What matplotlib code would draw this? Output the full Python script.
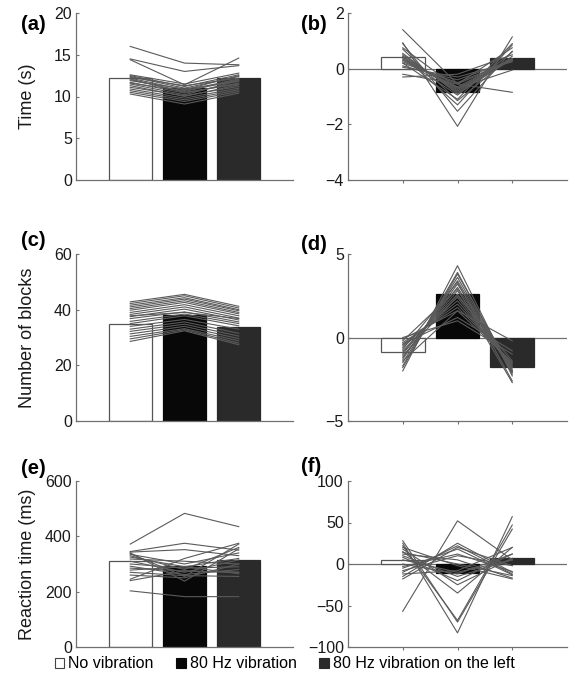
import matplotlib
matplotlib.use("Agg")
import matplotlib.pyplot as plt
from matplotlib.patches import Patch
import numpy as np

plt.rcParams['font.family'] = ['Liberation Sans', 'DejaVu Sans']

conditions = ["No vibration", "80 Hz vibration", "80 Hz vibration on the left"]
bar_colors = ["white", "#080808", "#2a2a2a"]

# (a) Time (s)
a_means = [12.25, 11.0, 12.2]
a_subj = [
    [16.0, 14.0, 13.8], [14.5, 13.0, 13.7], [14.4, 11.4, 14.6], [12.6, 11.5, 12.8],
    [12.5, 11.2, 12.6], [12.4, 11.0, 12.4], [12.3, 11.3, 12.2], [12.2, 10.8, 12.5],
    [12.0, 10.6, 12.0], [11.9, 10.9, 11.8], [11.7, 10.4, 11.6], [11.5, 10.2, 11.9],
    [11.3, 10.0, 11.4], [11.1, 10.1, 11.2], [10.9, 9.8, 11.0], [10.7, 9.6, 10.8],
    [10.5, 9.4, 10.6], [10.3, 9.1, 10.4], [12.1, 10.5, 11.5], [11.6, 10.7, 12.1],
]
# (b) normalized time
b_means = [0.43, -0.83, 0.40]
b_subj = [
    [1.40, -0.55, -0.85], [0.75, -0.70, -0.05], [0.93, -2.07, 1.14], [0.90, -1.53, 0.63],
    [0.45, -1.30, 0.85], [0.70, -1.15, 0.45], [0.20, -1.10, 0.90], [0.55, -0.90, 0.35],
    [0.50, -0.85, 0.35], [0.45, -0.80, 0.35], [0.40, -0.75, 0.35], [0.35, -0.70, 0.35],
    [0.30, -0.65, 0.35], [0.25, -0.55, 0.30], [0.20, -0.50, 0.30], [0.10, -0.40, 0.30],
    [0.05, -0.30, 0.25], [-0.20, -0.55, 0.75], [-0.30, -0.20, 0.50], [0.35, -0.95, 0.60],
]
# (c) Number of blocks
c_means = [34.8, 38.1, 33.9]
c_subj = [
    [42.8, 45.5, 41.2], [42.2, 45.0, 40.6], [41.6, 44.3, 40.0], [41.0, 43.8, 39.6],
    [40.4, 43.2, 39.0], [39.8, 42.6, 38.5], [39.0, 41.8, 37.8], [38.3, 41.0, 37.0],
    [37.5, 40.2, 36.3], [36.8, 39.2, 35.6], [35.8, 38.4, 35.0], [35.0, 37.8, 34.2],
    [34.0, 36.5, 33.0], [33.0, 35.6, 31.5], [32.2, 34.8, 30.5], [31.3, 34.0, 29.6],
    [30.4, 33.2, 28.8], [29.5, 32.8, 28.0], [28.6, 32.4, 27.4], [37.8, 39.0, 36.8],
]
# (d) normalized blocks
d_means = [-0.85, 2.6, -1.75]
d_subj = [
    [-2.0, 4.3, -2.3], [-1.7, 3.9, -2.2], [-1.5, 3.6, -2.1], [-1.3, 3.4, -2.1],
    [-1.2, 3.2, -2.0], [-1.0, 3.0, -2.0], [-0.9, 2.8, -1.9], [-0.8, 2.6, -1.8],
    [-0.6, 2.4, -1.8], [-0.5, 2.2, -1.7], [-0.4, 2.0, -1.6], [-0.3, 1.8, -1.5],
    [-0.1, 1.6, -1.5], [0.0, 1.0, -1.0], [-1.4, 1.6, -0.2], [-0.2, 2.9, -2.7],
    [-1.8, 3.8, -2.0], [-0.7, 3.3, -2.6], [-1.1, 2.5, -1.4], [-0.4, 1.2, -0.8],
]
# (e) Reaction time (ms)
e_means = [311, 293, 314]
e_subj = [
    [372, 483, 435], [345, 375, 350], [343, 352, 330], [340, 238, 355],
    [338, 255, 372], [335, 300, 340], [330, 280, 360], [325, 290, 320],
    [318, 310, 300], [310, 270, 315], [300, 285, 290], [292, 262, 280],
    [285, 275, 270], [278, 290, 265], [270, 258, 255], [245, 320, 375],
    [203, 182, 182], [260, 250, 300], [240, 275, 270],
]
# (f) normalized reaction time
f_means = [4.7, -11.0, 7.5]
f_subj = [
    [-57, 52, 5], [25, -83, 57], [28, -70, 42], [22, -68, 47],
    [15, -35, 20], [18, -25, 7], [-15, 25, -10], [-10, 22, -12],
    [-18, 20, -2], [-5, 18, -13], [10, -15, 5], [5, -10, 5],
    [-8, 10, -2], [12, 5, -17], [-12, -8, 20], [20, -2, -18],
    [8, -20, 12], [-3, 12, -9], [0, -12, 12], [14, 0, -14],
]

panels = [
    ("(a)", a_means, a_subj, (0, 20), [0, 5, 10, 15, 20], "Time (s)", False),
    ("(b)", b_means, b_subj, (-4, 2), [-4, -2, 0, 2], None, True),
    ("(c)", c_means, c_subj, (0, 60), [0, 20, 40, 60], "Number of blocks", False),
    ("(d)", d_means, d_subj, (-5, 5), [-5, 0, 5], None, True),
    ("(e)", e_means, e_subj, (0, 600), [0, 200, 400, 600], "Reaction time (ms)", False),
    ("(f)", f_means, f_subj, (-100, 100), [-100, -50, 0, 50, 100], None, True),
]

W, H = 581, 685
fig = plt.figure(figsize=(W / 100, H / 100), dpi=100)

col_x = [(76, 293), (348, 567)]
row_y = [(13, 180), (254, 421), (481, 647)]
label_pos = [(21, 25), (301, 25), (21, 240), (301, 245), (21, 468), (301, 467)]

spine_col = "#707070"
x = np.arange(1, 4)

for i, (lab, means, subj, ylim, yticks, ylabel, norm) in enumerate(panels):
    r, c = divmod(i, 2)
    x0, x1 = col_x[c]
    yt, yb = row_y[r]
    ax = fig.add_axes([x0 / W, (H - yb) / H, (x1 - x0) / W, (yb - yt) / H])
    ax.bar(x, means, width=0.8, color=bar_colors, edgecolor=["#555555", "#080808", "#2a2a2a"],
           linewidth=0.9, zorder=2)
    for s in subj:
        ax.plot(x, s, color="#5a5a5a", lw=0.8, zorder=3)
    if norm:
        ax.axhline(0, color=spine_col, lw=0.9, zorder=1)
    ax.set_xlim(0, 4)
    ax.set_ylim(*ylim)
    ax.set_yticks(yticks)
    if norm:
        ax.set_xticks([1, 2, 3])
        ax.set_xticklabels([])
        ax.tick_params(axis='x', direction='out', length=2.5, width=0.8, color=spine_col)
    else:
        ax.set_xticks([])
    ax.tick_params(axis='y', direction='in', length=2.5, width=0.8, color=spine_col,
                   labelsize=11.5, labelcolor="#1a1a1a", pad=3)
    for sp in ["top", "right"]:
        ax.spines[sp].set_visible(False)
    for sp in ["left", "bottom"]:
        ax.spines[sp].set_color(spine_col)
        ax.spines[sp].set_linewidth(0.9)
    ax.patch.set_alpha(0)
    if ylabel:
        ax.set_ylabel(ylabel, fontsize=13, color="#1a1a1a")
        ax.yaxis.set_label_coords(-0.185, 0.5)
    lx, ly = label_pos[i]
    fig.text(lx / W, 1 - ly / H, lab, fontsize=14.5, fontweight="bold", ha="left", va="center")

handles = [Patch(facecolor=bar_colors[k], edgecolor=["#444444", "#080808", "#2a2a2a"][k], linewidth=0.8)
           for k in range(3)]
fig.legend(handles, conditions, loc="center", bbox_to_anchor=(0.49, 1 - 664 / H), ncol=3,
           frameon=False, fontsize=11.5, handlelength=0.6, handleheight=0.6, handletextpad=0.25,
           columnspacing=1.4, borderpad=0, borderaxespad=0)

fig.savefig("out.png", dpi=100)
